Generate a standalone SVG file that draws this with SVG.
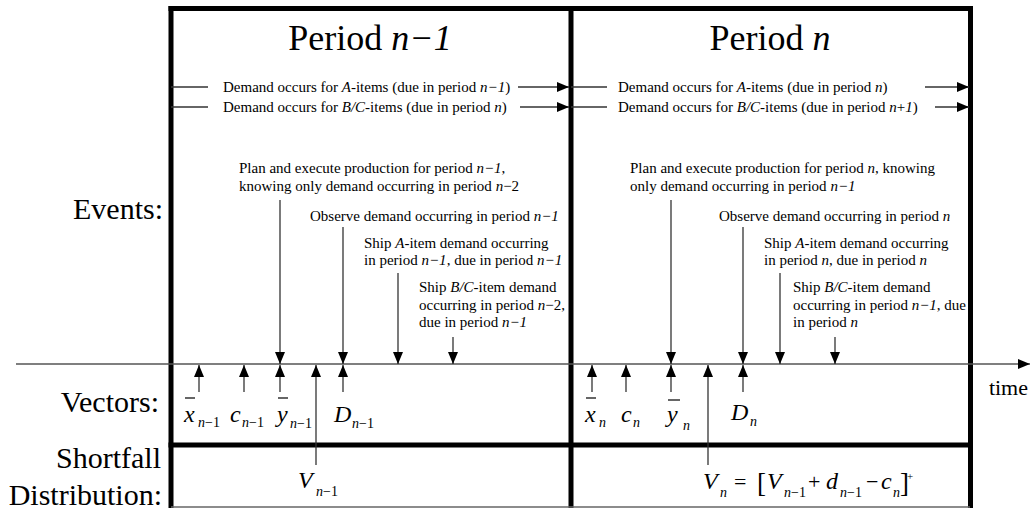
<svg xmlns="http://www.w3.org/2000/svg" width="1030" height="508" viewBox="0 0 1030 508">
<style>
text{font-family:'Liberation Serif','Times New Roman',serif;fill:#000}
.lbl{font-size:30px;text-anchor:end}
.title{font-size:36px;text-anchor:middle}
.ann{font-size:15px}
.sym{font-size:24px;font-style:italic}
.op{font-size:22px}
.br{font-size:27px}
.sub{font-size:14px}
.i{font-style:italic}
.frame{stroke:#000;stroke-width:5;fill:none}
.ln{stroke:#333;stroke-width:1.3;fill:none}
.axis{stroke:#555;stroke-width:1.6;fill:none}
.bar{stroke:#000;stroke-width:1.2}
</style>
<defs>
<marker id="ah" markerUnits="userSpaceOnUse" markerWidth="12" markerHeight="10" refX="12" refY="5" orient="auto">
<path d="M0,0 L12,5 L0,10 z" fill="#000"/>
</marker>
</defs>
<rect width="1030" height="508" fill="#fff"/>
<g id="frame">
<line class="frame" x1="168.5" y1="8.5" x2="973" y2="8.5"/>
<line class="frame" x1="171" y1="6" x2="171" y2="508"/>
<line class="frame" x1="571" y1="6" x2="571" y2="508"/>
<line class="frame" x1="970.5" y1="6" x2="970.5" y2="508"/>
<line class="frame" x1="168.5" y1="445" x2="973" y2="445"/>
<line x1="171" y1="507" x2="970" y2="507" stroke="#666" stroke-width="1.5"/>
</g>
<g id="labels">
<text class="lbl" x="163" y="219">Events:</text>
<text class="lbl" x="159" y="412">Vectors:</text>
<text class="lbl" x="161" y="468">Shortfall</text>
<text class="lbl" x="162" y="505">Distribution:</text>
<text x="1028" y="395" font-size="22" text-anchor="end">time</text>
</g>
<g id="period-n-1">
<text class="title" x="370" y="50">Period <tspan class="i">n−1</tspan></text>
<text class="ann" x="223" y="92">Demand occurs for <tspan class="i">A</tspan>-items (due in period <tspan class="i">n−1</tspan>)</text>
<text class="ann" x="223" y="111.5">Demand occurs for <tspan class="i">B/C</tspan>-items (due in period <tspan class="i">n</tspan>)</text>
<text class="ann" x="239" y="173">Plan and execute production for period <tspan class="i">n−1</tspan>,</text>
<text class="ann" x="239" y="191">knowing only demand occurring in period <tspan class="i">n</tspan>−2</text>
<text class="ann" x="310" y="221">Observe demand occurring in period <tspan class="i">n−1</tspan></text>
<text class="ann" x="364" y="248">Ship <tspan class="i">A</tspan>-item demand occurring</text>
<text class="ann" x="364" y="265">in period <tspan class="i">n−1</tspan>, due in period <tspan class="i">n−1</tspan></text>
<text class="ann" x="419" y="292">Ship <tspan class="i">B/C</tspan>-item demand</text>
<text class="ann" x="419" y="310">occurring in period <tspan class="i">n</tspan>−2,</text>
<text class="ann" x="419" y="327">due in period <tspan class="i">n−1</tspan></text>
</g>
<g id="period-n">
<text class="title" x="770" y="50">Period <tspan class="i">n</tspan></text>
<text class="ann" x="618" y="92">Demand occurs for <tspan class="i">A</tspan>-items (due in period <tspan class="i">n</tspan>)</text>
<text class="ann" x="618" y="111.5">Demand occurs for <tspan class="i">B/C</tspan>-items (due in period <tspan class="i">n</tspan>+<tspan class="i">1</tspan>)</text>
<text class="ann" x="630" y="173">Plan and execute production for period <tspan class="i">n</tspan>, knowing</text>
<text class="ann" x="630" y="191">only demand occurring in period <tspan class="i">n−1</tspan></text>
<text class="ann" x="719" y="221">Observe demand occurring in period <tspan class="i">n</tspan></text>
<text class="ann" x="764" y="248">Ship <tspan class="i">A</tspan>-item demand occurring</text>
<text class="ann" x="764" y="265">in period <tspan class="i">n</tspan>, due in period <tspan class="i">n</tspan></text>
<text class="ann" x="793" y="292">Ship <tspan class="i">B/C</tspan>-item demand</text>
<text class="ann" x="793" y="310">occurring in period <tspan class="i">n−1</tspan>, due</text>
<text class="ann" x="793" y="327">in period <tspan class="i">n</tspan></text>
</g>
<g id="vectors-n-1">
<text class="sym" x="184" y="422">x</text><text class="sub" x="198" y="427"><tspan class="i">n</tspan>−1</text>
<line class="bar" x1="185" y1="398" x2="195" y2="398"/>
<text class="sym" x="230" y="422">c</text><text class="sub" x="242" y="427"><tspan class="i">n</tspan>−1</text>
<text class="sym" x="277" y="422">y</text><text class="sub" x="290" y="428"><tspan class="i">n</tspan>−1</text>
<line class="bar" x1="278" y1="398" x2="288" y2="398"/>
<text class="sym" x="334" y="422">D</text><text class="sub" x="352" y="428"><tspan class="i">n</tspan>−1</text>
<text class="sym" x="298" y="488">V</text><text class="sub" x="316" y="496"><tspan class="i">n</tspan>−1</text>
</g>
<g id="vectors-n">
<text class="sym" x="585" y="422">x</text><text class="sub i" x="599" y="427">n</text>
<line class="bar" x1="586" y1="398" x2="596" y2="398"/>
<text class="sym" x="621" y="422">c</text><text class="sub i" x="633" y="427">n</text>
<text class="sym" x="667" y="422">y</text><text class="sub i" x="683" y="430">n</text>
<line class="bar" x1="668" y1="400" x2="680" y2="400"/>
<text class="sym" x="731" y="420">D</text><text class="sub i" x="750" y="426">n</text>
<text class="sym" x="703" y="489">V</text><text class="sub i" x="720" y="497">n</text>
<text class="op" x="734" y="489">=</text>
<text class="br" x="757" y="492">[</text>
<text class="sym" x="767" y="489">V</text><text class="sub" x="784" y="497"><tspan class="i">n</tspan>−1</text>
<text class="op" x="808" y="489">+</text>
<text class="sym" x="826" y="489">d</text><text class="sub" x="840" y="497"><tspan class="i">n</tspan>−1</text>
<text class="op" x="866" y="489">−</text>
<text class="sym" x="881" y="489">c</text><text class="sub i" x="893" y="497">n</text>
<text class="br" x="900" y="492">]</text>
<text x="907" y="480" font-size="11">+</text>
</g>
<g id="connectors">
<line class="axis" x1="16" y1="364" x2="1030" y2="364" marker-end="url(#ah)"/>
<line class="ln" x1="171" y1="87" x2="208" y2="87"/>
<line class="ln" x1="171" y1="107" x2="208" y2="107"/>
<line class="ln" x1="518" y1="87" x2="569" y2="87" marker-end="url(#ah)"/>
<line class="ln" x1="520" y1="107" x2="569" y2="107" marker-end="url(#ah)"/>
<line class="ln" x1="571" y1="87" x2="607" y2="87"/>
<line class="ln" x1="571" y1="107" x2="607" y2="107"/>
<line class="ln" x1="925" y1="87" x2="969" y2="87" marker-end="url(#ah)"/>
<line class="ln" x1="935" y1="107" x2="969" y2="107" marker-end="url(#ah)"/>
<line class="ln" x1="280" y1="200" x2="280" y2="364" marker-end="url(#ah)"/>
<line class="ln" x1="343" y1="227" x2="343" y2="364" marker-end="url(#ah)"/>
<line class="ln" x1="398" y1="273" x2="398" y2="364" marker-end="url(#ah)"/>
<line class="ln" x1="453" y1="337" x2="453" y2="364" marker-end="url(#ah)"/>
<line class="ln" x1="671" y1="200" x2="671" y2="364" marker-end="url(#ah)"/>
<line class="ln" x1="743" y1="227" x2="743" y2="364" marker-end="url(#ah)"/>
<line class="ln" x1="780" y1="273" x2="780" y2="364" marker-end="url(#ah)"/>
<line class="ln" x1="835" y1="337" x2="835" y2="364" marker-end="url(#ah)"/>
<line class="ln" x1="199" y1="392" x2="199" y2="365" marker-end="url(#ah)"/>
<line class="ln" x1="244" y1="392" x2="244" y2="365" marker-end="url(#ah)"/>
<line class="ln" x1="280" y1="392" x2="280" y2="365" marker-end="url(#ah)"/>
<line class="ln" x1="316" y1="465" x2="316" y2="365" marker-end="url(#ah)"/>
<line class="ln" x1="343" y1="392" x2="343" y2="365" marker-end="url(#ah)"/>
<line class="ln" x1="592" y1="392" x2="592" y2="365" marker-end="url(#ah)"/>
<line class="ln" x1="626" y1="392" x2="626" y2="365" marker-end="url(#ah)"/>
<line class="ln" x1="671" y1="392" x2="671" y2="365" marker-end="url(#ah)"/>
<line class="ln" x1="708" y1="465" x2="708" y2="365" marker-end="url(#ah)"/>
<line class="ln" x1="743" y1="392" x2="743" y2="365" marker-end="url(#ah)"/>
</g>
</svg>
